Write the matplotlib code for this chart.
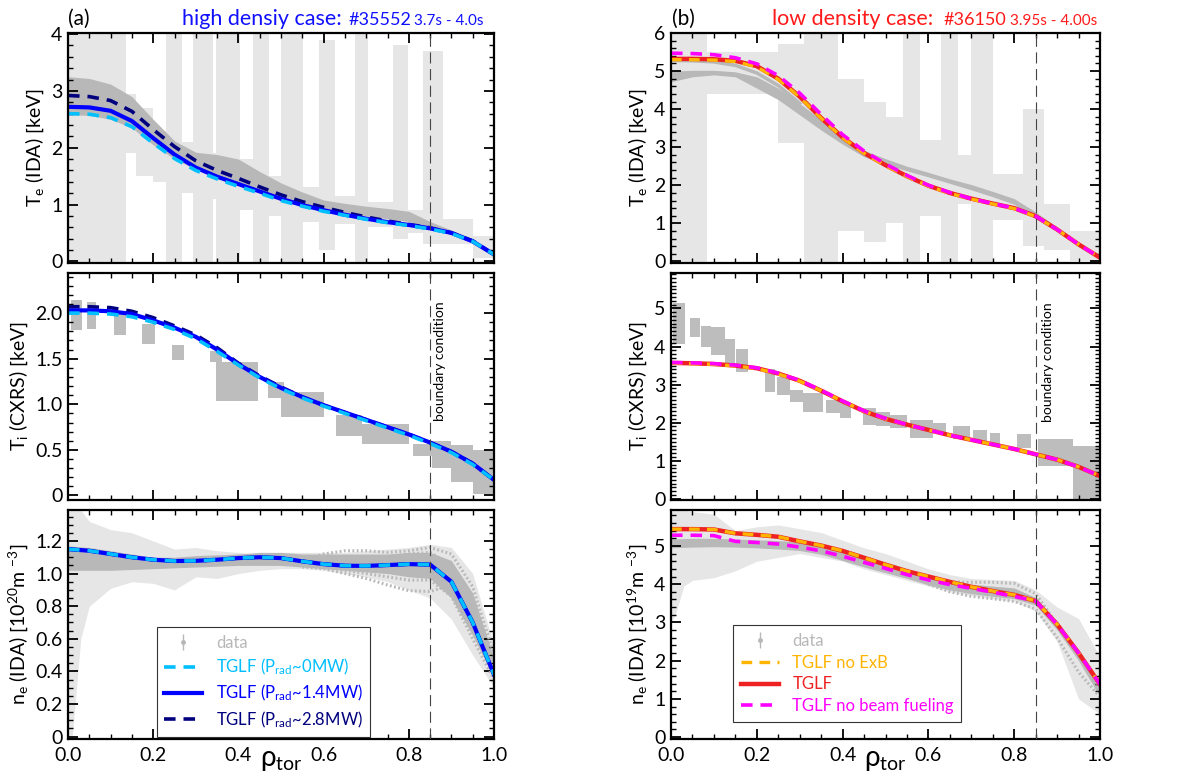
import matplotlib
matplotlib.use('Agg')
import matplotlib.pyplot as plt
import numpy as np
from matplotlib.ticker import MultipleLocator, FixedLocator

plt.rcParams['font.family'] = ['Lato', 'DejaVu Sans']
plt.rcParams['mathtext.default'] = 'regular'

# ---------------- data ----------------
rho = [0.0, 0.05, 0.1, 0.15, 0.2, 0.25, 0.3, 0.35, 0.4, 0.45, 0.5,
       0.55, 0.6, 0.65, 0.7, 0.75, 0.8, 0.85, 0.9, 0.95, 1.0]
rho_ticks = [0.0, 0.2, 0.4, 0.6, 0.8, 1.0]
rho_labels = ['0.0', '0.2', '0.4', '0.6', '0.8', '1.0']

# (a) high density, Te
te_a_lblue = [2.60, 2.59, 2.53, 2.37, 2.08, 1.81, 1.60, 1.45, 1.32, 1.20, 1.07, 0.97, 0.88, 0.81, 0.74, 0.68, 0.63, 0.57, 0.49, 0.35, 0.12]
te_a_blue = [2.72, 2.71, 2.65, 2.47, 2.17, 1.88, 1.65, 1.49, 1.36, 1.23, 1.10, 0.99, 0.90, 0.82, 0.75, 0.69, 0.64, 0.58, 0.50, 0.35, 0.12]
te_a_navy = [2.92, 2.90, 2.83, 2.64, 2.32, 2.02, 1.77, 1.60, 1.46, 1.31, 1.17, 1.05, 0.95, 0.86, 0.78, 0.71, 0.65, 0.59, 0.50, 0.36, 0.12]
te_a_band_lo = [2.58, 2.57, 2.50, 2.35, 2.05, 1.80, 1.62, 1.48, 1.38, 1.25, 1.12, 1.02, 0.93, 0.86, 0.80, 0.75, 0.70, 0.60, 0.48, 0.33, 0.10]
te_a_band_hi = [3.25, 3.22, 3.12, 2.90, 2.50, 2.12, 1.92, 1.88, 1.80, 1.58, 1.38, 1.22, 1.08, 1.02, 0.97, 0.93, 0.88, 0.70, 0.55, 0.40, 0.14]
te_a_err_x0 = [0.00, 0.135, 0.16, 0.20, 0.23, 0.268, 0.293, 0.34, 0.348, 0.403, 0.434, 0.473, 0.50, 0.552, 0.59, 0.626, 0.673, 0.704, 0.763, 0.798, 0.833, 0.88, 0.95]
te_a_err_x1 = [0.135, 0.16, 0.20, 0.23, 0.268, 0.293, 0.34, 0.348, 0.403, 0.434, 0.473, 0.50, 0.552, 0.59, 0.626, 0.673, 0.704, 0.763, 0.798, 0.833, 0.88, 0.95, 1.0]
te_a_err_lo = [-0.1, 1.9, 1.5, 1.4, -0.1, 1.2, -0.1, 1.1, -0.1, 0.9, -0.1, 0.8, -0.1, 0.7, 0.2, 0.65, -0.1, 0.6, 0.4, 0.5, 0.3, 0.3, 0.05]
te_a_err_hi = [4.1, 2.95, 2.7, 2.3, 4.1, 2.1, 4.1, 1.9, 4.1, 1.8, 4.1, 1.5, 4.1, 1.3, 3.9, 1.15, 4.1, 1.05, 3.8, 0.9, 3.7, 0.75, 0.45]

# (a) Ti
ti_a_lblue = [2.00, 2.00, 1.99, 1.96, 1.90, 1.82, 1.72, 1.58, 1.43, 1.29, 1.17, 1.07, 0.98, 0.90, 0.82, 0.74, 0.66, 0.57, 0.47, 0.34, 0.17]
ti_a_blue = [2.03, 2.03, 2.02, 1.99, 1.92, 1.84, 1.74, 1.60, 1.44, 1.30, 1.18, 1.08, 0.99, 0.91, 0.83, 0.75, 0.67, 0.58, 0.48, 0.35, 0.17]
ti_a_navy = [2.07, 2.07, 2.06, 2.02, 1.95, 1.86, 1.76, 1.62, 1.45, 1.31, 1.19, 1.08, 0.99, 0.91, 0.83, 0.75, 0.67, 0.58, 0.48, 0.35, 0.17]
ti_a_cx_x0 = [0.008, 0.044, 0.109, 0.174, 0.245, 0.334, 0.347, 0.47, 0.50, 0.63, 0.69, 0.81, 0.855, 0.90, 0.95]
ti_a_cx_x1 = [0.034, 0.065, 0.137, 0.204, 0.273, 0.361, 0.446, 0.507, 0.60, 0.69, 0.80, 0.855, 0.90, 0.95, 1.0]
ti_a_cx_lo = [1.82, 1.83, 1.76, 1.66, 1.49, 1.46, 1.04, 1.07, 0.86, 0.65, 0.56, 0.43, 0.30, 0.15, 0.02]
ti_a_cx_hi = [2.14, 2.12, 2.02, 1.88, 1.65, 1.58, 1.46, 1.24, 1.14, 0.88, 0.78, 0.56, 0.60, 0.55, 0.50]

# (a) ne
ne_a_lblue = [1.15, 1.14, 1.12, 1.10, 1.085, 1.077, 1.078, 1.085, 1.095, 1.10, 1.095, 1.075, 1.058, 1.048, 1.047, 1.052, 1.058, 1.055, 0.95, 0.70, 0.38]
ne_a_blue = [1.15, 1.14, 1.12, 1.10, 1.085, 1.077, 1.078, 1.085, 1.095, 1.10, 1.095, 1.075, 1.058, 1.048, 1.047, 1.052, 1.058, 1.055, 0.95, 0.70, 0.38]
ne_a_navy = [1.15, 1.14, 1.12, 1.10, 1.085, 1.077, 1.078, 1.085, 1.095, 1.10, 1.095, 1.075, 1.058, 1.048, 1.047, 1.052, 1.058, 1.055, 0.95, 0.70, 0.38]
ne_a_band_lo = [1.02, 1.02, 1.02, 1.025, 1.03, 1.035, 1.04, 1.045, 1.05, 1.05, 1.05, 1.04, 1.03, 1.02, 1.01, 1.0, 0.98, 0.97, 0.85, 0.62, 0.36]
ne_a_band_hi = [1.17, 1.16, 1.14, 1.12, 1.10, 1.10, 1.11, 1.115, 1.12, 1.13, 1.13, 1.12, 1.12, 1.12, 1.12, 1.12, 1.13, 1.13, 1.08, 0.88, 0.48]
ne_a_env_x = [0.0, 0.01, 0.02, 0.03, 0.05, 0.1, 0.15, 0.2, 0.25, 0.3, 0.35, 0.4, 0.45, 0.5, 0.55, 0.6, 0.65, 0.7, 0.75, 0.8, 0.85, 0.9, 0.95, 1.0]
ne_a_env_lo = [0.0, 0.0, 0.3, 0.6, 0.8, 0.91, 0.95, 0.94, 0.90, 0.98, 0.97, 1.0, 1.02, 1.03, 1.03, 1.02, 1.0, 0.98, 0.95, 0.9, 0.85, 0.72, 0.5, 0.3]
ne_a_env_hi = [1.39, 1.39, 1.39, 1.39, 1.32, 1.27, 1.25, 1.2, 1.15, 1.16, 1.14, 1.13, 1.12, 1.13, 1.13, 1.13, 1.13, 1.14, 1.15, 1.16, 1.18, 1.16, 1.0, 0.56]
ne_a_dot_x = [0.55, 0.6, 0.65, 0.7, 0.75, 0.8, 0.85, 0.9, 0.95, 1.0]
ne_a_dot1 = [1.04, 1.03, 1.0, 0.97, 0.93, 0.895, 0.89, 0.93, 0.72, 0.40]
ne_a_dot2 = [1.05, 1.04, 1.02, 1.0, 0.98, 0.96, 0.96, 0.86, 0.60, 0.35]
ne_a_dot3 = [1.08, 1.12, 1.14, 1.14, 1.13, 1.14, 1.16, 1.12, 0.92, 0.50]
ne_a_dot4 = [1.07, 1.09, 1.10, 1.10, 1.10, 1.12, 1.13, 1.05, 0.78, 0.42]

# (b) low density, Te
te_b_red = [5.32, 5.32, 5.31, 5.27, 5.13, 4.80, 4.33, 3.77, 3.26, 2.85, 2.53, 2.24, 1.99, 1.80, 1.65, 1.52, 1.40, 1.19, 0.84, 0.45, 0.10]
te_b_orange = [5.30, 5.30, 5.29, 5.25, 5.11, 4.78, 4.32, 3.76, 3.25, 2.84, 2.52, 2.23, 1.98, 1.79, 1.64, 1.51, 1.39, 1.18, 0.84, 0.45, 0.10]
te_b_magenta = [5.47, 5.46, 5.43, 5.35, 5.19, 4.88, 4.42, 3.86, 3.33, 2.90, 2.56, 2.26, 2.00, 1.81, 1.65, 1.52, 1.40, 1.19, 0.84, 0.45, 0.10]
te_b_band_lo = [4.72, 4.85, 4.90, 4.85, 4.55, 4.25, 3.85, 3.45, 3.08, 2.75, 2.55, 2.38, 2.22, 2.05, 1.88, 1.70, 1.50, 1.12, 0.80, 0.42, 0.05]
te_b_band_hi = [5.00, 5.02, 5.02, 4.98, 4.85, 4.55, 4.15, 3.72, 3.30, 2.92, 2.70, 2.50, 2.34, 2.17, 2.02, 1.84, 1.65, 1.30, 0.90, 0.50, 0.12]
te_b_line_x = [0.0, 0.05, 0.1, 0.15, 0.2, 0.25, 0.3]
te_b_line = [5.28, 5.27, 5.24, 5.15, 4.95, 4.62, 4.15]
te_b_err_x0 = [0.0, 0.085, 0.25, 0.31, 0.39, 0.45, 0.50, 0.54, 0.58, 0.63, 0.67, 0.70, 0.75, 0.82, 0.87, 0.93]
te_b_err_x1 = [0.085, 0.25, 0.31, 0.39, 0.45, 0.50, 0.54, 0.58, 0.63, 0.67, 0.70, 0.75, 0.82, 0.87, 0.93, 1.0]
te_b_err_lo = [-0.1, 4.4, 3.1, -0.1, 0.8, 0.5, 1.0, -0.1, 1.2, -0.1, 1.5, -0.1, 1.1, 0.4, 0.3, 0.0]
te_b_err_hi = [6.1, 5.5, 5.7, 6.1, 4.8, 4.2, 3.8, 6.1, 3.2, 6.1, 2.8, 6.1, 2.3, 4.0, 1.5, 0.8]

# (b) Ti
ti_b_red = [3.57, 3.56, 3.54, 3.50, 3.43, 3.29, 3.10, 2.84, 2.56, 2.30, 2.10, 1.95, 1.81, 1.67, 1.55, 1.43, 1.31, 1.17, 1.03, 0.84, 0.60]
ti_b_orange = [3.56, 3.55, 3.53, 3.49, 3.42, 3.28, 3.09, 2.84, 2.56, 2.30, 2.10, 1.95, 1.81, 1.67, 1.55, 1.43, 1.31, 1.17, 1.03, 0.84, 0.60]
ti_b_magenta = [3.58, 3.57, 3.55, 3.51, 3.44, 3.30, 3.11, 2.85, 2.57, 2.31, 2.11, 1.95, 1.81, 1.67, 1.55, 1.43, 1.31, 1.17, 1.03, 0.84, 0.60]
ti_b_cx_x0 = [0.005, 0.044, 0.07, 0.094, 0.125, 0.152, 0.218, 0.246, 0.277, 0.308, 0.362, 0.393, 0.448, 0.479, 0.51, 0.557, 0.611, 0.658, 0.705, 0.743, 0.806, 0.856, 0.938]
ti_b_cx_x1 = [0.032, 0.067, 0.094, 0.125, 0.149, 0.18, 0.242, 0.277, 0.308, 0.355, 0.393, 0.42, 0.479, 0.51, 0.549, 0.611, 0.642, 0.697, 0.736, 0.767, 0.84, 0.938, 1.0]
ti_b_cx_lo = [4.07, 4.24, 3.98, 3.77, 3.55, 3.33, 2.81, 2.73, 2.55, 2.29, 2.25, 2.12, 1.95, 1.90, 1.86, 1.60, 1.73, 1.56, 1.52, 1.43, 1.34, 0.87, 0.0]
ti_b_cx_hi = [5.15, 4.76, 4.55, 4.50, 4.20, 3.94, 3.42, 3.20, 2.86, 2.77, 2.60, 2.51, 2.38, 2.29, 2.20, 2.08, 1.99, 1.90, 1.82, 1.73, 1.69, 1.56, 1.39]

# (b) ne
ne_b_red = [5.44, 5.44, 5.43, 5.33, 5.29, 5.24, 5.12, 5.01, 4.87, 4.69, 4.51, 4.34, 4.20, 4.06, 3.93, 3.82, 3.72, 3.56, 2.95, 2.20, 1.38]
ne_b_orange = [5.44, 5.44, 5.43, 5.33, 5.29, 5.24, 5.12, 5.01, 4.87, 4.69, 4.51, 4.34, 4.20, 4.06, 3.93, 3.82, 3.72, 3.56, 2.95, 2.20, 1.38]
ne_b_magenta = [5.28, 5.28, 5.27, 5.12, 5.09, 5.05, 4.97, 4.87, 4.73, 4.57, 4.41, 4.25, 4.11, 3.99, 3.89, 3.79, 3.68, 3.56, 2.95, 2.20, 1.38]
ne_b_band_lo = [4.95, 4.97, 4.98, 4.97, 4.95, 4.92, 4.88, 4.78, 4.62, 4.45, 4.30, 4.15, 3.98, 3.85, 3.75, 3.68, 3.62, 3.45, 2.80, 2.00, 1.05]
ne_b_band_hi = [5.18, 5.20, 5.20, 5.18, 5.16, 5.14, 5.10, 5.00, 4.90, 4.75, 4.58, 4.40, 4.22, 4.08, 4.00, 3.95, 3.90, 3.65, 3.00, 2.30, 1.35]
ne_b_env_x = [0.0, 0.01, 0.03, 0.05, 0.1, 0.15, 0.2, 0.25, 0.3, 0.35, 0.4, 0.45, 0.5, 0.55, 0.6, 0.65, 0.7, 0.75, 0.8, 0.85, 0.9, 0.95, 1.0]
ne_b_env_lo = [3.0, 3.2, 3.95, 4.1, 4.17, 4.35, 4.6, 4.7, 4.8, 4.7, 4.6, 4.4, 4.25, 4.1, 3.95, 3.8, 3.7, 3.62, 3.55, 3.3, 2.5, 1.0, 0.6]
ne_b_env_hi = [5.94, 5.94, 5.94, 5.9, 5.83, 5.4, 5.5, 5.55, 5.45, 5.35, 5.15, 4.95, 4.8, 4.6, 4.4, 4.25, 4.15, 4.12, 4.1, 3.85, 3.4, 3.1, 2.1]
ne_b_dot_x = [0.6, 0.65, 0.7, 0.75, 0.8, 0.85, 0.9, 0.95, 1.0]
ne_b_dot1 = [4.15, 4.06, 4.05, 4.05, 4.02, 3.75, 2.95, 2.20, 1.30]
ne_b_dot2 = [4.00, 3.80, 3.68, 3.62, 3.55, 3.35, 2.60, 1.70, 1.05]

# ---------------- style ----------------
LBLUE, BLUE, NAVY = '#00bfff', '#0000ff', '#00007f'
RED, ORANGE, MAGENTA = '#ee2222', '#ffb400', '#ff00ff'
G_BAND, G_ERR, G_PT = '#b8b8b8', '#e6e6e6', '#bdbdbd'

W, H = 1192, 774
fig = plt.figure(figsize=(W / 100, H / 100), dpi=100)


def add_ax(left, top, right, bottom):
    return fig.add_axes([left / W, 1 - bottom / H, (right - left) / W, (bottom - top) / H])


def blocks(ax, x0, x1, lo, hi, color):
    for a, b, l, h in zip(x0, x1, lo, hi):
        ax.fill_between([a, b], [l, l], [h, h], color=color, lw=0)


def style(ax, ylim, yt, ylabs, yminor, ylabel, bottom=False):
    ax.set_xlim(0, 1)
    ax.set_ylim(*ylim)
    ax.xaxis.set_major_locator(FixedLocator(rho_ticks))
    ax.xaxis.set_minor_locator(MultipleLocator(0.05))
    ax.yaxis.set_major_locator(FixedLocator(yt))
    ax.yaxis.set_minor_locator(MultipleLocator(yminor))
    ax.set_yticklabels(ylabs)
    if bottom:
        ax.set_xticklabels(rho_labels)
        ax.set_xlabel(r'$\rho_{tor}$', fontsize=20)
        ax.xaxis.set_label_coords(0.5, -0.035)
    else:
        ax.set_xticklabels([])
    ax.tick_params(which='both', direction='in', top=True, right=True, labelsize=14)
    ax.tick_params(which='major', length=7, width=1.3, pad=4)
    ax.tick_params(axis='x', which='major', pad=6)
    ax.tick_params(which='minor', length=3.5, width=1.0)
    for s in ax.spines.values():
        s.set_linewidth(1.6)
    ax.set_ylabel(ylabel, fontsize=14, labelpad=4)
    ax.axvline(0.85, color='#444444', lw=0.8, ls=(0, (10, 5)), zorder=5)


def legend(ax, handles, colors, anchor):
    leg = ax.legend(handles=handles, loc='lower left', bbox_to_anchor=anchor, fontsize=12,
                    frameon=True, fancybox=False, framealpha=1, edgecolor='#333333',
                    handlelength=2.3, borderpad=0.45, labelspacing=0.35, borderaxespad=0)
    leg.get_frame().set_linewidth(0.8)
    for t, c in zip(leg.get_texts(), colors):
        t.set_color(c)


dash = (0, (3.2, 2.2))

# ---- (a) Te ----
ax = add_ax(68, 33, 494, 263)
blocks(ax, te_a_err_x0, te_a_err_x1, te_a_err_lo, te_a_err_hi, G_ERR)
ax.fill_between(rho, te_a_band_lo, te_a_band_hi, color=G_BAND, lw=0)
ax.plot(rho, te_a_navy, color=NAVY, lw=2.6, ls=dash)
ax.plot(rho, te_a_blue, color=BLUE, lw=3.0)
ax.plot(rho, te_a_lblue, color=LBLUE, lw=2.6, ls=dash)
style(ax, (-0.03, 4.02), [0, 1, 2, 3, 4], ['0', '1', '2', '3', '4'], 0.2,
      r'T$_e$ (IDA) [keV]')

# ---- (a) Ti ----
ax = add_ax(68, 273, 494, 500)
blocks(ax, ti_a_cx_x0, ti_a_cx_x1, ti_a_cx_lo, ti_a_cx_hi, G_PT)
ax.plot(rho, ti_a_navy, color=NAVY, lw=2.6, ls=dash)
ax.plot(rho, ti_a_blue, color=BLUE, lw=3.0)
ax.plot(rho, ti_a_lblue, color=LBLUE, lw=2.6, ls=dash)
ax.text(0.874, 2.13, 'boundary condition', rotation=90, ha='center', va='top', fontsize=10)
style(ax, (-0.05, 2.44), [0, 0.5, 1.0, 1.5, 2.0], ['0', '0.5', '1.0', '1.5', '2.0'], 0.1,
      r'T$_i$ (CXRS) [keV]')

# ---- (a) ne ----
ax = add_ax(68, 510, 494, 739)
ax.fill_between(ne_a_env_x, ne_a_env_lo, ne_a_env_hi, color=G_ERR, lw=0)
ax.fill_between(rho, ne_a_band_lo, ne_a_band_hi, color=G_BAND, lw=0)
for d in (ne_a_dot1, ne_a_dot2, ne_a_dot3, ne_a_dot4):
    ax.plot(ne_a_dot_x, d, color=G_BAND, lw=2.2, ls=(0, (0.6, 0.8)))
h0 = ax.errorbar([-1], [0.5], yerr=[0.1], fmt='o', ms=2.5, color=G_BAND, elinewidth=1.0, label='data')
h3, = ax.plot(rho, ne_a_navy, color=NAVY, lw=2.6, ls=dash, label=r'TGLF (P$_{rad}$~2.8MW)')
h2, = ax.plot(rho, ne_a_blue, color=BLUE, lw=3.0, label=r'TGLF (P$_{rad}$~1.4MW)')
h1, = ax.plot(rho, ne_a_lblue, color=LBLUE, lw=2.6, ls=dash, label=r'TGLF (P$_{rad}$~0MW)')
style(ax, (-0.015, 1.39), [0, 0.2, 0.4, 0.6, 0.8, 1.0, 1.2],
      ['0', '0.2', '0.4', '0.6', '0.8', '1.0', '1.2'], 0.05,
      r'n$_e$ (IDA) [10$^{20}$m $^{-3}$]', bottom=True)
legend(ax, [h0, h1, h2, h3], [G_BAND, LBLUE, BLUE, NAVY], (0.208, 0.008))

# ---- (b) Te ----
ax = add_ax(671, 33, 1100, 263)
blocks(ax, te_b_err_x0, te_b_err_x1, te_b_err_lo, te_b_err_hi, G_ERR)
ax.fill_between(rho, te_b_band_lo, te_b_band_hi, color=G_BAND, lw=0)
ax.plot(te_b_line_x, te_b_line, color=G_BAND, lw=2.5)
ax.plot(rho, te_b_red, color=RED, lw=3.2)
ax.plot(rho, te_b_orange, color=ORANGE, lw=2.4, ls=dash)
ax.plot(rho, te_b_magenta, color=MAGENTA, lw=2.6, ls=dash)
style(ax, (-0.04, 6.0), [0, 1, 2, 3, 4, 5, 6], ['0', '1', '2', '3', '4', '5', '6'], 0.2,
      r'T$_e$ (IDA) [keV]')

# ---- (b) Ti ----
ax = add_ax(671, 273, 1100, 500)
blocks(ax, ti_b_cx_x0, ti_b_cx_x1, ti_b_cx_lo, ti_b_cx_hi, G_PT)
ax.plot(rho, ti_b_red, color=RED, lw=3.2)
ax.plot(rho, ti_b_orange, color=ORANGE, lw=2.4, ls=dash)
ax.plot(rho, ti_b_magenta, color=MAGENTA, lw=2.6, ls=dash)
ax.text(0.879, 5.17, 'boundary condition', rotation=90, ha='center', va='top', fontsize=10)
style(ax, (-0.03, 5.93), [0, 1, 2, 3, 4, 5], ['0', '1', '2', '3', '4', '5'], 0.1,
      r'T$_i$ (CXRS) [keV]')

# ---- (b) ne ----
ax = add_ax(671, 510, 1100, 739)
ax.fill_between(ne_b_env_x, ne_b_env_lo, ne_b_env_hi, color=G_ERR, lw=0)
ax.fill_between(rho, ne_b_band_lo, ne_b_band_hi, color=G_BAND, lw=0)
for d in (ne_b_dot1, ne_b_dot2):
    ax.plot(ne_b_dot_x, d, color=G_BAND, lw=2.2, ls=(0, (0.6, 0.8)))
g0 = ax.errorbar([-1], [0.5], yerr=[0.1], fmt='o', ms=2.5, color=G_BAND, elinewidth=1.0, label='data')
g2, = ax.plot(rho, ne_b_red, color=RED, lw=3.2, label='TGLF')
g1, = ax.plot(rho, ne_b_orange, color=ORANGE, lw=2.4, ls=dash, label='TGLF no ExB')
g3, = ax.plot(rho, ne_b_magenta, color=MAGENTA, lw=2.6, ls=dash, label='TGLF no beam fueling')
style(ax, (-0.05, 5.94), [0, 1, 2, 3, 4, 5], ['0', '1', '2', '3', '4', '5'], 0.2,
      r'n$_e$ (IDA) [10$^{19}$m $^{-3}$]', bottom=True)
legend(ax, [g0, g1, g2, g3], [G_BAND, ORANGE, RED, MAGENTA], (0.145, 0.075))

# ---------------- titles ----------------
yb = 1 - 25 / H
fig.text(68 / W, yb, '(a)', fontsize=15, va='baseline')
fig.text(182 / W, yb, 'high densiy case:', fontsize=15.5, color='#1010ff', va='baseline')
fig.text(349 / W, yb, '#35552', fontsize=13, color='#1010ff', va='baseline')
fig.text(414 / W, yb, '3.7s - 4.0s', fontsize=11, color='#1010ff', va='baseline')
fig.text(672 / W, yb, '(b)', fontsize=15, va='baseline')
fig.text(772 / W, yb, 'low density case:', fontsize=15.5, color='#ff1a1a', va='baseline')
fig.text(944 / W, yb, '#36150', fontsize=13, color='#ff1a1a', va='baseline')
fig.text(1010 / W, yb, '3.95s - 4.00s', fontsize=11, color='#ff1a1a', va='baseline')

fig.savefig('out.png', dpi=100)
